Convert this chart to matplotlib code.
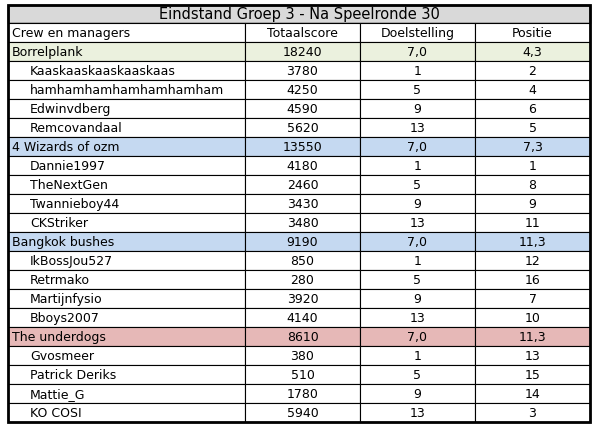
import matplotlib
matplotlib.use("Agg")
import matplotlib.pyplot as plt
from matplotlib.patches import Rectangle

TITLE = "Eindstand Groep 3 - Na Speelronde 30"
HEADERS = ["Crew en managers", "Totaalscore", "Doelstelling", "Positie"]
TEAMS = ["Borrelplank", "4 Wizards of ozm", "Bangkok bushes", "The underdogs"]
TEAM_SCORE = [18240, 13550, 9190, 8610]
TEAM_GOAL = ["7,0", "7,0", "7,0", "7,0"]
TEAM_POS = ["4,3", "7,3", "11,3", "11,3"]
TEAM_COLORS = ["#ebf1de", "#c5d9f1", "#c5d9f1", "#e6b8b7"]
MANAGERS = [
    ["Kaaskaaskaaskaaskaas", "hamhamhamhamhamhamham", "Edwinvdberg", "Remcovandaal"],
    ["Dannie1997", "TheNextGen", "Twannieboy44", "CKStriker"],
    ["IkBossJou527", "Retrmako", "Martijnfysio", "Bboys2007"],
    ["Gvosmeer", "Patrick Deriks", "Mattie_G", "KO COSI"],
]
SCORES = [[3780, 4250, 4590, 5620], [4180, 2460, 3430, 3480],
          [850, 280, 3920, 4140], [380, 510, 1780, 5940]]
GOALS = [[1, 5, 9, 13]] * 4
POSITIONS = [[2, 4, 6, 5], [1, 8, 9, 11], [12, 16, 7, 10], [13, 15, 14, 3]]

COL_X = [8, 245, 360, 475, 590]
TOP, TITLE_H, ROW_H = 5, 18, 19
FS = 9

fig = plt.figure(figsize=(6.0, 4.26), dpi=100)
ax = fig.add_axes([0, 0, 1, 1])
ax.set_xlim(0, 600)
ax.set_ylim(426, 0)
ax.axis("off")

# title row
ax.add_patch(Rectangle((COL_X[0], TOP), COL_X[-1] - COL_X[0], TITLE_H,
                       facecolor="#d9d9d9", edgecolor="black", lw=1))
ax.text((COL_X[0] + COL_X[-1]) / 2, TOP + TITLE_H / 2 + 1, TITLE,
        ha="center", va="center", fontsize=10.5)

rows = [(HEADERS, "white", True)]
for t in range(len(TEAMS)):
    rows.append(([TEAMS[t], str(TEAM_SCORE[t]), TEAM_GOAL[t], TEAM_POS[t]],
                 TEAM_COLORS[t], True))
    for m in range(len(MANAGERS[t])):
        rows.append(([MANAGERS[t][m], str(SCORES[t][m]), str(GOALS[t][m]),
                      str(POSITIONS[t][m])], "white", False))

y = TOP + TITLE_H
for i, (cells, color, flush) in enumerate(rows):
    for c in range(4):
        x0, x1 = COL_X[c], COL_X[c + 1]
        ax.add_patch(Rectangle((x0, y), x1 - x0, ROW_H, facecolor=color,
                               edgecolor="black", lw=0.8))
        if c == 0:
            ax.text(x0 + (4 if flush else 22), y + ROW_H / 2 + 1, cells[c],
                    ha="left", va="center", fontsize=FS)
        else:
            ax.text((x0 + x1) / 2, y + ROW_H / 2 + 1, cells[c],
                    ha="center", va="center", fontsize=FS)
    y += ROW_H

# thick outer border
ax.add_patch(Rectangle((COL_X[0], TOP), COL_X[-1] - COL_X[0], y - TOP,
                       facecolor="none", edgecolor="black", lw=2))

fig.savefig("out.png", dpi=100)
